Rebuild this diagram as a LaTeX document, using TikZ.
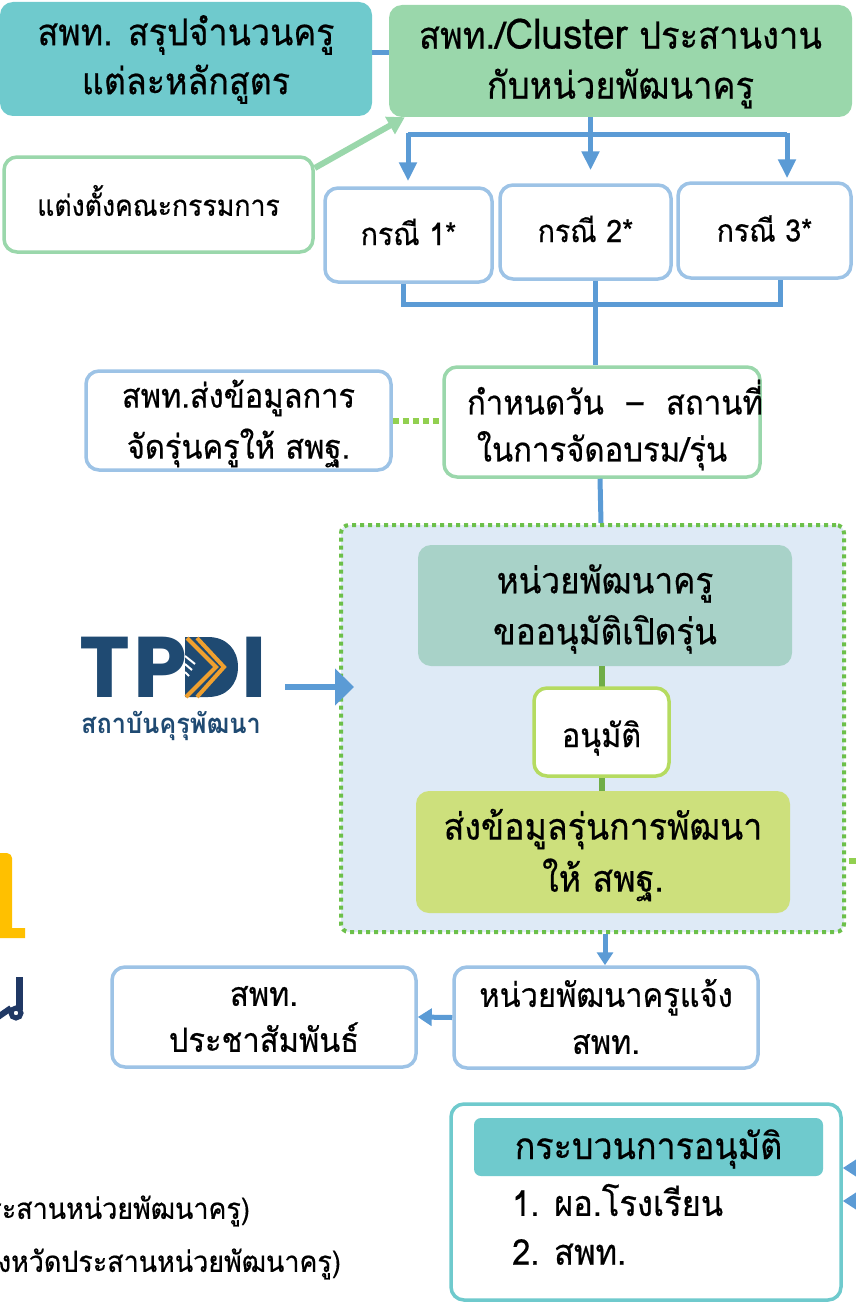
\documentclass[tikz,border=0pt]{standalone}
\usepackage{fontspec}
\setmainfont[Script=Thai,FakeStretch=0.92,UprightFeatures={FakeBold=0.5}]{Loma}
\newfontfamily\logofont{Poppins}
\usetikzlibrary{arrows.meta,calc}
\definecolor{tealfill}{HTML}{6FCACD}
\definecolor{greenfill}{HTML}{9AD7AB}
\definecolor{greenedge}{HTML}{9AD7AB}
\definecolor{blueedge}{HTML}{9DC3E6}
\definecolor{linkblue}{HTML}{5B9BD5}
\definecolor{panelfill}{HTML}{DEEAF6}
\definecolor{paneldot}{HTML}{6CC04A}
\definecolor{limedot}{HTML}{92D050}
\definecolor{sagefill}{HTML}{A8D2C8}
\definecolor{limefill}{HTML}{CDE07C}
\definecolor{limeedge}{HTML}{B5DB60}
\definecolor{stemgreen}{HTML}{70AD47}
\definecolor{navy}{HTML}{1F4A72}
\definecolor{logoorange}{HTML}{EFA02F}
\definecolor{gold}{HTML}{FFC000}
\definecolor{titlenavy}{HTML}{203864}
\tikzset{
  x=1pt,y=-1pt,
  card/.style={rectangle,rounded corners=13pt,inner sep=0pt},
  bluecard/.style={card,draw=blueedge,line width=3.5pt,fill=white},
  greencard/.style={card,draw=greenedge,line width=3.5pt,fill=white},
  caption/.style={align=center,inner sep=0pt,text=black},
  link/.style={draw=linkblue,line width=5pt},
  arrowlink/.style={link,-{Triangle[length=19pt,width=17pt]}},
  sz/.style 2 args={font=\fontsize{#1}{#2}\selectfont},
  logoletter/.style={inner sep=0pt,anchor=base,text=navy,font=\logofont\bfseries\fontsize{86}{86}\selectfont},
}
\begin{document}
\begin{tikzpicture}
\useasboundingbox (0,0) rectangle (856,1303);
\clip (0,0) rectangle (856,1303);

% cropped title glyphs at the left edge
\fill[gold] (-5,853) -- (7,853) .. controls (10,853) and (12,856) .. (12,858) -- (12,928) -- (25,928) -- (25,938) -- (-5,938) -- cycle;
\draw[titlenavy,line width=7pt] (19.5,977) -- (19.5,1010);
\draw[titlenavy,line width=5pt] (16,1013) circle (5);
\draw[titlenavy,line width=6pt] (11,1008) -- (-2,1017);

% panel
\node[rectangle,rounded corners=8pt,draw=paneldot,fill=panelfill,line width=4pt,dash pattern=on 4pt off 4pt,minimum width=503pt,minimum height=407pt] (panel) at (592.5,728.5) {};

% row 1
\node[card,fill=tealfill,minimum width=372pt,minimum height=114pt] (summary) at (186,59) {};
\node[caption,sz={37}{49}] (summaryT) at ($(summary)+(0,0.5)$) {สพท. สรุปจำนวนครู\\แต่ละหลักสูตร};
\node[card,fill=greenfill,minimum width=463pt,minimum height=112pt] (cluster) at (620.5,61) {};
\node[caption,sz={37.5}{50}] (clusterT) at ($(cluster)+(0,2.5)$) {สพท./{\fontsize{42}{50}\selectfont Cluster} ประสานงาน\\กับหน่วยพัฒนาครู};
\node[greencard,minimum width=309pt,minimum height=95pt] (committee) at (158.5,204.5) {};
\node[caption,sz={29}{40}] (committeeT) at ($(committee)+(0,-4)$) {แต่งตั้งคณะกรรมการ};

% cases
\node[bluecard,minimum width=167pt,minimum height=94pt] (case1) at (408.5,235) {};
\node[caption,sz={31}{40}] (case1T) at ($(case1)+(0,-3)$) {กรณี 1*};
\node[bluecard,minimum width=171pt,minimum height=94pt] (case2) at (585.5,232) {};
\node[caption,sz={31}{40}] (case2T) at ($(case2)+(0,-3)$) {กรณี 2*};
\node[bluecard,minimum width=173pt,minimum height=95pt] (case3) at (764.5,230.5) {};
\node[caption,sz={31}{40}] (case3T) at ($(case3)+(0,-2)$) {กรณี 3*};

% dates
\node[bluecard,minimum width=305pt,minimum height=99pt] (sendinfo) at (238.5,420.5) {};
\node[caption,sz={33.5}{51}] (sendinfoT) at ($(sendinfo)+(0,3)$) {สพท.ส่งข้อมูลการ\\จัดรุ่นครูให้ สพฐ.};
\node[greencard,minimum width=316pt,minimum height=110pt] (dates) at (602,422) {};
\node[caption,sz={33.8}{47}] (datesT) at ($(dates)+(0,3)$) {\hspace*{26pt}กำหนดวัน\hspace{12pt} – \hspace{12pt}สถานที่\\ในการจัดอบรม/รุ่น};

% inside panel
\node[card,fill=sagefill,minimum width=374pt,minimum height=121pt] (request) at (605,605.5) {};
\node[caption,sz={36.2}{51}] (requestT) at ($(request)+(0,3.5)$) {หน่วยพัฒนาครู\\ขออนุมัติเปิดรุ่น};
\node[card,fill=limefill,minimum width=374pt,minimum height=122pt] (sendbatch) at (603,852) {};
\node[caption,sz={36.9}{52}] (sendbatchT) at ($(sendbatch)+(0,3)$) {ส่งข้อมูลรุ่นการพัฒนา\\ให้ สพฐ.};
\draw[stemgreen,line width=6pt] ([xshift=-3pt]request.south) -- ([xshift=-1pt]sendbatch.north);
\node[card,draw=limeedge,line width=3.5pt,fill=white,minimum width=135pt,minimum height=88pt] (approve) at (601.5,732) {};
\node[caption,sz={33.2}{40}] (approveT) at ($(approve)+(0,6)$) {อนุมัติ};

% lower row
\node[bluecard,minimum width=304pt,minimum height=101pt] (notify) at (606,1017.5) {};
\node[caption,sz={33.5}{47}] (notifyT) at ($(notify)+(0,-1)$) {หน่วยพัฒนาครูแจ้ง\\สพท.};
\node[bluecard,minimum width=304pt,minimum height=100pt] (pr) at (264,1017) {};
\node[caption,sz={33.5}{46}] (prT) at ($(pr)+(0,2)$) {สพท.\\ประชาสัมพันธ์};

% approval process
\node[card,draw=tealfill,line width=3.5pt,fill=white,minimum width=390pt,minimum height=196pt] (process) at (646,1202) {};
\node[card,rounded corners=7pt,fill=tealfill,minimum width=349pt,minimum height=58pt] (processhead) at (648.5,1147) {};
\node[caption,sz={37}{40}] (processheadT) at ($(processhead)+(0,2)$) {กระบวนการอนุมัติ};
\node[anchor=west,inner sep=0pt,sz={35.5}{40}] (step1) at (512,1200) {1. ผอ.โรงเรียน};
\node[anchor=west,inner sep=0pt,sz={35.5}{40}] (step2) at (512,1252) {2. สพท.};

% cropped notes
\node[anchor=east,inner sep=0pt,sz={29.2}{36}] (note1) at (250,1211) {ประสานหน่วยพัฒนาครู)};
\node[anchor=east,inner sep=0pt,sz={29.2}{36}] (note2) at (341,1264) {จังหวัดประสานหน่วยพัฒนาครู)};

% logo
\node[logoletter] (logoT) at (105,697) {T};
\node[logoletter] (logoP) at (160,697) {P};
\node[logoletter] (logoI) at (254,697) {I};
\fill[navy] (185,637) -- (208,637) .. controls (227,637) and (238,650) .. (238,667) .. controls (238,684) and (227,697) .. (208,697) -- (185,697) -- cycle;
\draw[white,line width=2pt] (185,656) -- (195,664) (185,664) -- (192,670) (185,672) -- (189,676);
\draw[logoorange,line width=4pt] (187,638) -- (216,667) -- (186,697);
\draw[logoorange,line width=4pt] (197,638) -- (224,667) -- (197,697);
\node[inner sep=0pt,text=navy,sz={27.5}{32}] (logotext) at (171,726) {\textbf{สถาบันคุรุพัฒนา}};

% connectors
\draw[link] (summary.east |- 0,53) -- (cluster.west |- 0,53);
\draw[greenedge,line width=6pt,-{Triangle[length=17pt,width=19pt]}] (committee.east |- 0,168) -- ([xshift=16pt]cluster.south west);

\coordinate (trunk) at ($(cluster.south)+(-30,0)$);
\coordinate (bar) at (trunk |- 0,135);
\draw[arrowlink] (trunk) -- ([yshift=13pt]case2.north -| trunk);
\draw[link] (408,135) -- (787,135);
\draw[arrowlink] (408,133) -- ([yshift=5pt]case1.north -| 408,0);
\draw[arrowlink] (787,133) -- ([yshift=3pt]case3.north -| 787,0);

\coordinate (merge) at (595,304);
\draw[link] ([xshift=-5.5pt]case1.south) |- (merge) -| ([xshift=15.5pt]case3.south);
\draw[link] (case2.south -| merge) -- (dates.north -| merge);
\draw[limedot,line width=6pt,dash pattern=on 6pt off 4pt] (sendinfo.east) -- (dates.west |- sendinfo.east);
\draw[link] (dates.south -| 600,0) -- (panel.north -| 601,0);
\draw[link,line width=6.5pt,-{Triangle[length=19pt,width=36pt]}] (285,687) -- (354,687);
\draw[link,-{Triangle[length=13pt,width=16pt]}] (panel.south -| 605,0) -- (notify.north -| 605,0);
\draw[link,-{Triangle[length=14pt,width=17pt]}] (notify.west) -- (pr.east);
\draw[link,-{Triangle[length=14pt,width=17pt]}] (870,1168) -- (process.east |- 0,1168);
\draw[link,-{Triangle[length=14pt,width=17pt]}] (870,1201) -- (process.east |- 0,1201);
\draw[limedot,line width=6pt] (849,861) -- (856,861);
\end{tikzpicture}
\end{document}
